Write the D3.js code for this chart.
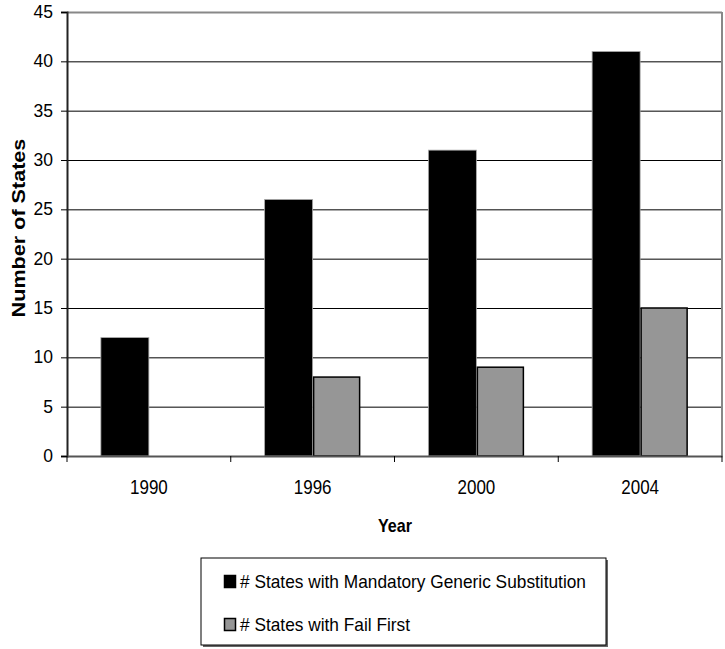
<!DOCTYPE html>
<html>
<head>
<meta charset="utf-8">
<script src="https://cdn.jsdelivr.net/npm/d3@7"></script>
<style>
  html, body { margin: 0; padding: 0; background: #fff; }
  svg { display: block; font-family: "Liberation Sans", Arial, sans-serif; }
</style>
</head>
<body>
<svg id="chart" width="725" height="649"></svg>
<script>
// Number of states with each policy, by year
const years = ["1990", "1996", "2000", "2004"];
const mandatoryGeneric = [12, 26, 31, 41];
const failFirst = [0, 8, 9, 15];
const seriesNames = ["# States with Mandatory Generic Substitution", "# States with Fail First"];
const yTicks = [0, 5, 10, 15, 20, 25, 30, 35, 40, 45];

const FONT = "Liberation Sans, Arial, sans-serif";
const svg = d3.select("#chart");
const plotLeft = 67, plotRight = 722, plotTop = 12, plotBottom = 456;

const x = d3.scaleBand().domain(years).range([plotLeft, plotRight]).paddingInner(0).paddingOuter(0);
const y = d3.scaleLinear().domain([0, 45]).range([plotBottom, plotTop]);

// horizontal gridlines
svg.append("g").selectAll("line").data(yTicks.filter(d => d > 0 && d < 45)).join("line")
  .attr("x1", plotLeft).attr("x2", plotRight)
  .attr("y1", d => y(d) + 0.5).attr("y2", d => y(d) + 0.5)
  .attr("stroke", "#000").attr("stroke-width", 1);

// plot frame (top and right)
svg.append("line").attr("x1", plotLeft).attr("x2", plotRight).attr("y1", plotTop + 0.5).attr("y2", plotTop + 0.5)
  .attr("stroke", "#888").attr("stroke-width", 2);
svg.append("line").attr("x1", plotRight).attr("x2", plotRight).attr("y1", plotTop).attr("y2", plotBottom)
  .attr("stroke", "#888").attr("stroke-width", 2);

// bars
const barW = 48;
const groups = years.map((yr, i) => ({ yr, a: mandatoryGeneric[i], b: failFirst[i] }));
const cx = d => x(d.yr) + x.bandwidth() / 2;

svg.append("g").selectAll("rect").data(groups).join("rect")
  .attr("x", d => cx(d) - barW)
  .attr("y", d => y(d.a))
  .attr("width", barW)
  .attr("height", d => y(0) - y(d.a))
  .attr("fill", "#000")
  .attr("stroke", "#aaa").attr("stroke-width", 0.8);

svg.append("g").selectAll("rect").data(groups.filter(d => d.b > 0)).join("rect")
  .attr("x", d => cx(d) + 1)
  .attr("y", d => y(d.b))
  .attr("width", barW - 2)
  .attr("height", d => y(0) - y(d.b))
  .attr("fill", "#969696")
  .attr("stroke", "#000").attr("stroke-width", 1.5);

// y axis
const yAxis = svg.append("g").attr("transform", `translate(${plotLeft},0)`)
  .call(d3.axisLeft(y).tickValues(yTicks).tickSize(6).tickPadding(8));
yAxis.select(".domain").attr("stroke", "#222").attr("stroke-width", 2);
yAxis.selectAll(".tick line").attr("stroke", "#000");
yAxis.selectAll("text").attr("font-size", 17.5).attr("fill", "#000").attr("font-family", FONT);

// x axis
const xAxis = svg.append("g").attr("transform", `translate(0,${plotBottom})`)
  .call(d3.axisBottom(x).tickSize(0));
xAxis.select(".domain").attr("stroke", "#555").attr("stroke-width", 2);
xAxis.selectAll("text")
  .attr("y", 38).attr("dy", null)
  .attr("font-size", 20).attr("fill", "#000").attr("font-family", FONT)
  .attr("transform", "scale(0.85,1)");
// category separator ticks
svg.append("g").selectAll("line").data(years.concat(["end"])).join("line")
  .attr("x1", (d, i) => i < years.length ? x(d) : plotRight)
  .attr("x2", (d, i) => i < years.length ? x(d) : plotRight)
  .attr("y1", plotBottom).attr("y2", plotBottom + 6)
  .attr("stroke", "#000").attr("stroke-width", 1);

// axis titles
svg.append("text").attr("transform", "translate(395,532) scale(0.92,1)").attr("text-anchor", "middle")
  .attr("font-size", 17.5).attr("font-weight", "bold").text("Year");
svg.append("text").attr("transform", "translate(25,228) rotate(-90) scale(1.2,1)").attr("text-anchor", "middle")
  .attr("font-size", 18).attr("font-weight", "bold").text("Number of States");

// legend
const lg = svg.append("g");
lg.append("rect").attr("x", 203).attr("y", 560).attr("width", 405).attr("height", 87)
  .attr("fill", "#666");
lg.append("rect").attr("x", 201).attr("y", 558).attr("width", 405).attr("height", 87)
  .attr("fill", "#fff").attr("stroke", "#000").attr("stroke-width", 1);
const fills = ["#000", "#969696"];
const baselines = [588, 631];
seriesNames.forEach((name, i) => {
  const yy = baselines[i];
  lg.append("rect").attr("x", 224.5).attr("y", yy - 12.5).attr("width", 11).attr("height", 12)
    .attr("fill", fills[i]).attr("stroke", "#000").attr("stroke-width", 1.5);
  lg.append("text").attr("transform", `translate(240,${yy}) scale(0.95,1)`)
    .attr("font-size", 18.2).text(name);
});
</script>
</body>
</html>
